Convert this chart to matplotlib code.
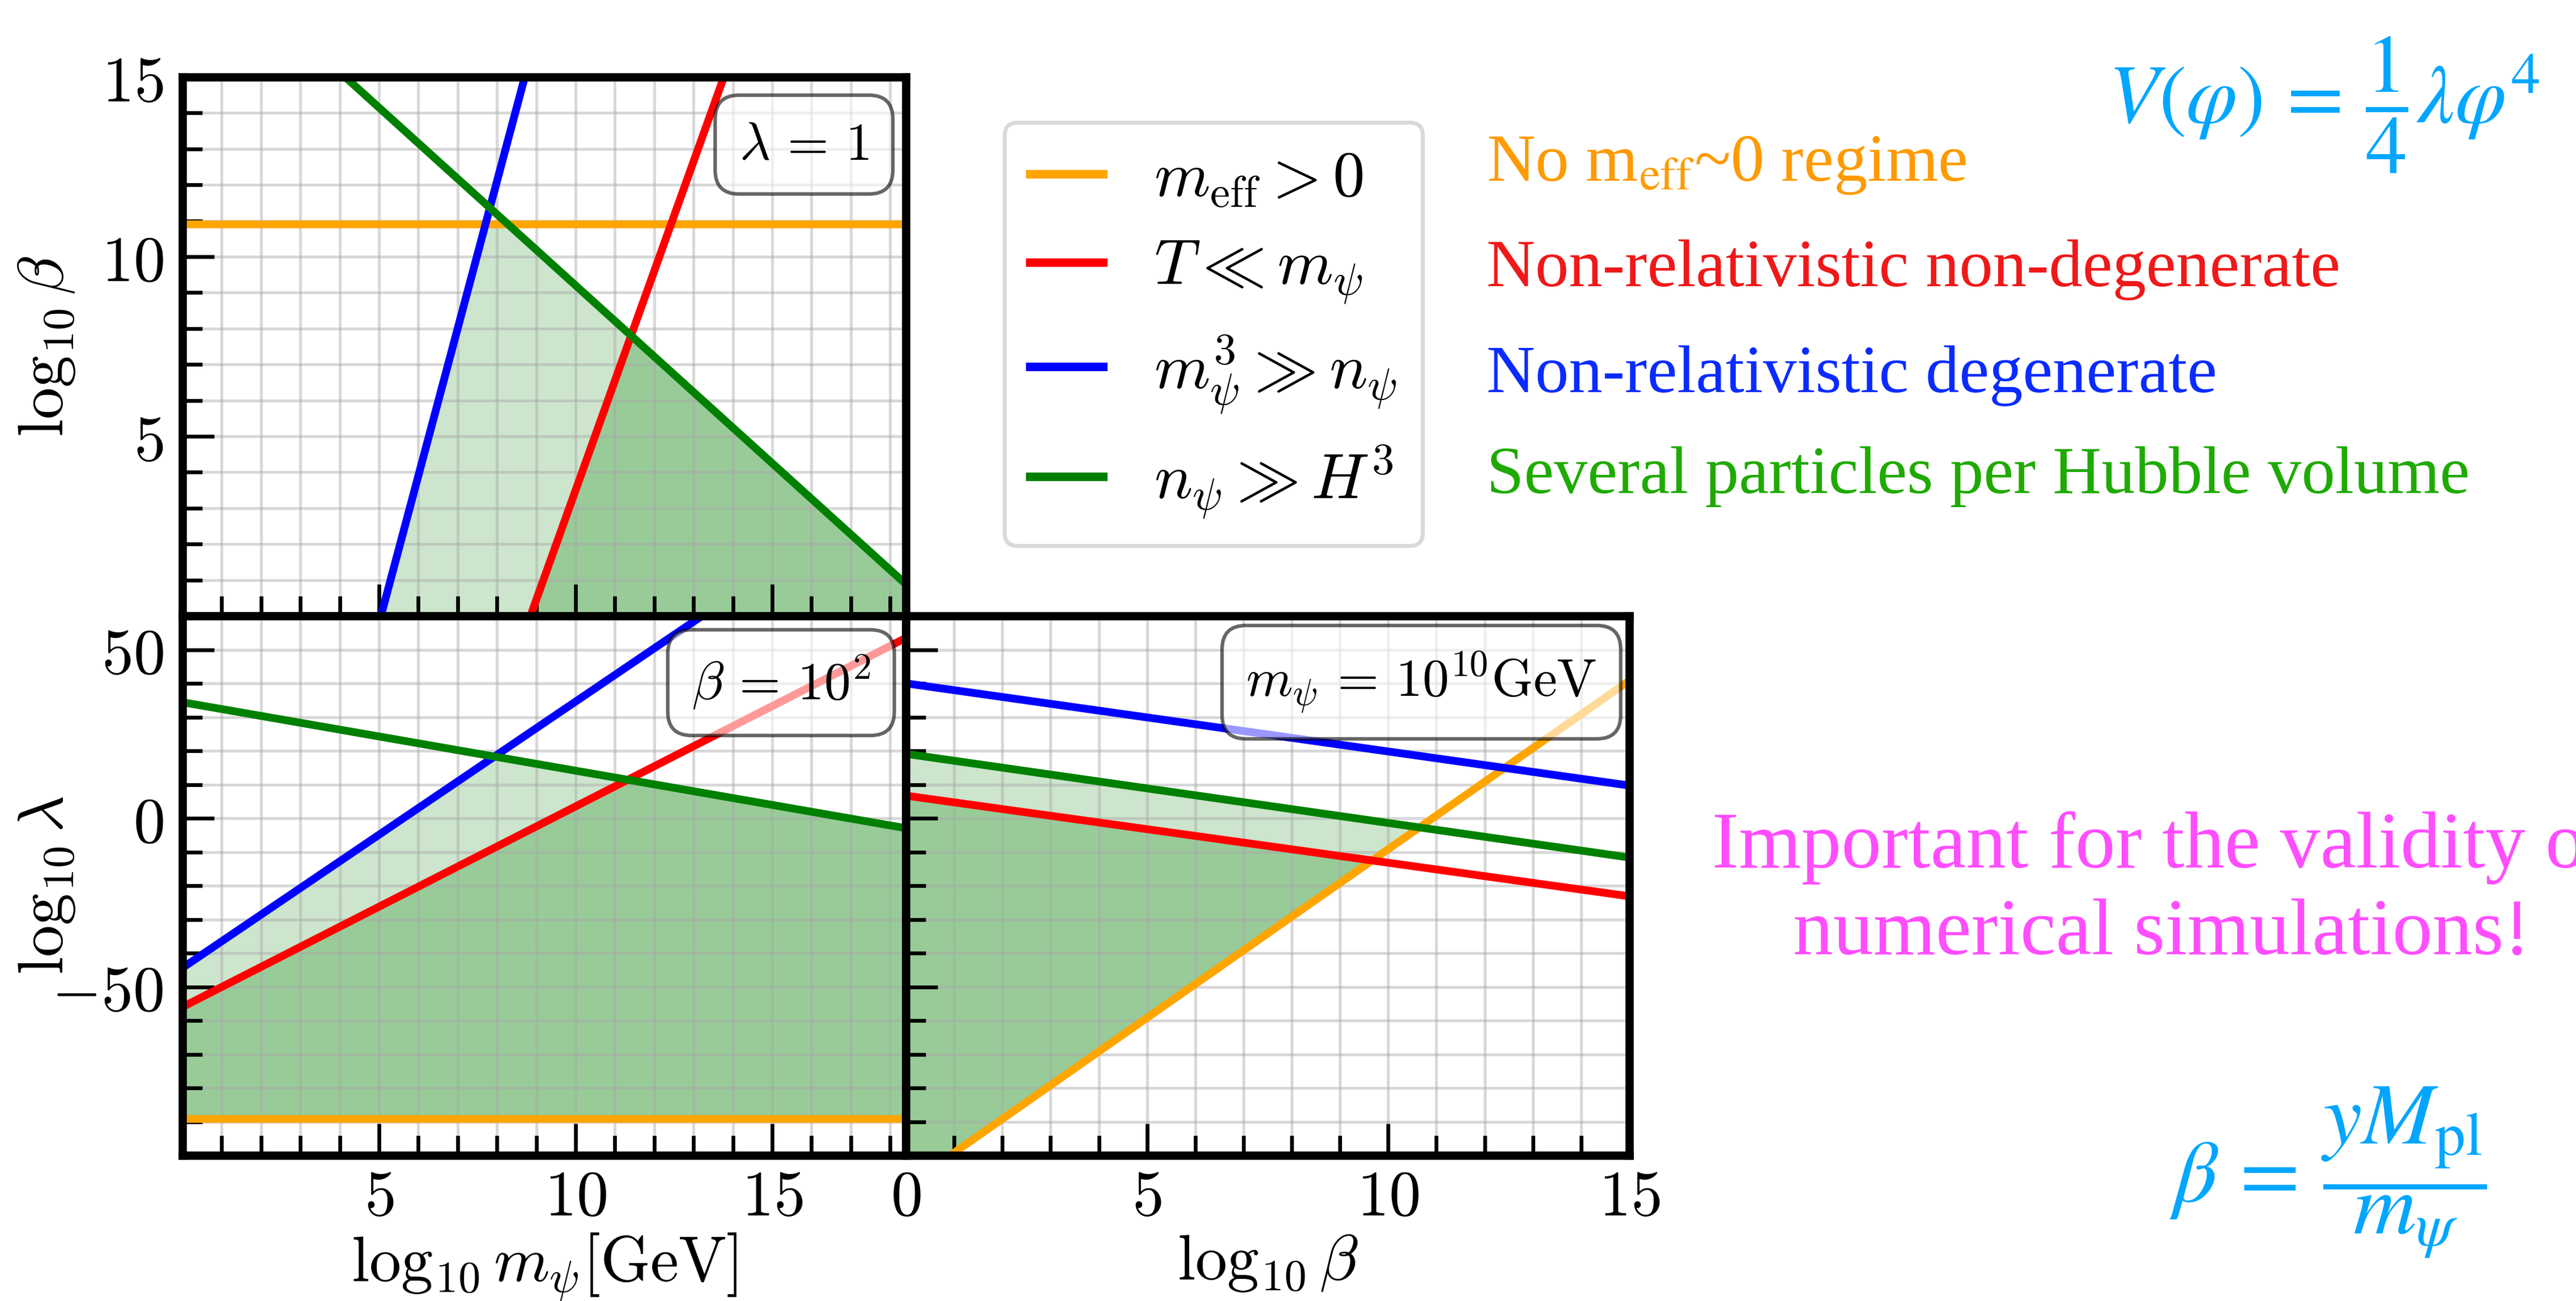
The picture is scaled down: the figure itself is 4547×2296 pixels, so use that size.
import numpy as np
import matplotlib
matplotlib.use("Agg")
import matplotlib.pyplot as plt
from matplotlib.lines import Line2D
from matplotlib.ticker import FixedLocator, MultipleLocator, FuncFormatter

plt.rcParams['mathtext.fontset'] = 'cm'
plt.rcParams['font.family'] = 'DejaVu Serif'

# ---- criteria lines: log10 of the constrained quantity = slope * x + intercept
conditions = ['orange', 'red', 'blue', 'green']
legend_labels = [r'$m_{\rm eff}>0$', r'$T\ll m_\psi$',
                 r'$m_\psi^3\gg n_\psi$', r'$n_\psi\gg H^3$']
descriptions = ['No m$_{\\mathrm{eff}}$~0 regime',
                'Non-relativistic non-degenerate',
                'Non-relativistic degenerate',
                'Several particles per Hubble volume']
desc_colors = ['#ff9a00', '#f01818', '#0a2bff', '#1faa00']

# lambda = 1 : log10 beta vs log10 m_psi
top_slopes = [0.0, 3.05, 4.1, -0.99]
top_intercepts = [10.9, -27.0, -20.7, 19.1]
# beta = 10^2 : log10 lambda vs log10 m_psi
bl_slopes = [0.0, 5.95, 7.9, -2.03]
bl_intercepts = [-89.2, -56.0, -44.4, 34.4]
# m_psi = 10^10 GeV : log10 lambda vs log10 beta
br_slopes = [10.0, -1.99, -2.02, -2.05]
br_intercepts = [-109.2, 6.7, 40.0, 19.1]

mass_range = (0, 18.4)
beta_range = (0, 15)
lam_range = (-100, 60)

FS = 27
W, H = 4547, 2296
fig = plt.figure(figsize=(W / 300, H / 300), dpi=300)

x0, x1, x2 = 322 / W, 1599 / W, 2876 / W
y_top, y_mid, y_bot = 1 - 136 / H, 1 - 1087 / H, 1 - 2039 / H
ax_top = fig.add_axes([x0, y_mid, x1 - x0, y_top - y_mid])
ax_bl = fig.add_axes([x0, y_bot, x1 - x0, y_mid - y_bot])
ax_br = fig.add_axes([x1, y_bot, x2 - x1, y_mid - y_bot])

fmt = FuncFormatter(lambda v, p: f'${v:g}$')


def style(ax):
    for s in ax.spines.values():
        s.set_linewidth(3.5)
    ax.tick_params(which='both', direction='in', top=False, right=False,
                   labelsize=FS, width=1.6)
    ax.tick_params(axis='y', pad=8)
    ax.tick_params(axis='x', pad=5)
    ax.tick_params(which='major', length=13.5)
    ax.tick_params(which='minor', length=8.5)
    ax.grid(which='both', color='darkgray', alpha=0.45, lw=1.2)
    ax.xaxis.set_major_formatter(fmt)
    ax.yaxis.set_major_formatter(fmt)


def draw_panel(ax, xr, yr, slopes, intercepts, orange_is_upper):
    x = np.linspace(xr[0], xr[1], 1200)
    lines = {c: s * x + b for c, s, b in zip(conditions, slopes, intercepts)}
    if orange_is_upper:
        lo = np.full_like(x, yr[0])
        up_light = np.minimum.reduce([lines['orange'], lines['blue'], lines['green']])
    else:
        lo = np.maximum(lines['orange'], yr[0])
        up_light = np.minimum(lines['blue'], lines['green'])
    up_dark = np.minimum(up_light, lines['red'])
    ax.fill_between(x, lo, up_light, where=up_light > lo, interpolate=True,
                    color='green', alpha=0.2, lw=0)
    ax.fill_between(x, lo, up_dark, where=up_dark > lo, interpolate=True,
                    color='green', alpha=0.25, lw=0)
    for c in conditions:
        ax.plot(x, lines[c], color=c, lw=3.3)
    ax.set_xlim(*xr)
    ax.set_ylim(*yr)
    style(ax)


draw_panel(ax_top, mass_range, beta_range, top_slopes, top_intercepts, True)
draw_panel(ax_bl, mass_range, lam_range, bl_slopes, bl_intercepts, False)
draw_panel(ax_br, beta_range, lam_range, br_slopes, br_intercepts, False)

# ticks
ax_top.xaxis.set_major_locator(FixedLocator([5, 10, 15]))
ax_top.xaxis.set_minor_locator(MultipleLocator(1))
ax_top.yaxis.set_major_locator(FixedLocator([5, 10, 15]))
ax_top.yaxis.set_minor_locator(MultipleLocator(1))
ax_top.tick_params(labelbottom=False)

ax_bl.xaxis.set_major_locator(FixedLocator([5, 10, 15]))
ax_bl.xaxis.set_minor_locator(MultipleLocator(1))
ax_bl.yaxis.set_major_locator(FixedLocator([-50, 0, 50]))
ax_bl.yaxis.set_minor_locator(MultipleLocator(10))

ax_br.xaxis.set_major_locator(FixedLocator([0, 5, 10, 15]))
ax_br.xaxis.set_minor_locator(MultipleLocator(1))
ax_br.yaxis.set_major_locator(FixedLocator([-50, 0, 50]))
ax_br.yaxis.set_minor_locator(MultipleLocator(10))
ax_br.tick_params(labelleft=False)

ax_top.set_ylabel(r'$\log_{10}\beta$', fontsize=FS)
ax_bl.set_ylabel(r'$\log_{10}\lambda$', fontsize=FS)
ax_bl.set_xlabel(r'$\log_{10}m_\psi[\mathrm{GeV}]$', fontsize=FS)
ax_br.set_xlabel(r'$\log_{10}\beta$', fontsize=FS)
ax_top.yaxis.set_label_coords(-0.146, 0.5)
ax_bl.yaxis.set_label_coords(-0.146, 0.5)
ax_bl.xaxis.set_label_coords(0.5, -0.142)
ax_br.xaxis.set_label_coords(0.5, -0.142)

BFS = 22.5
box = dict(boxstyle='round,pad=0.45', fc='white', ec='black', lw=1.5, alpha=0.6)
ax_top.text(0.949, 0.922, r'$\lambda\,=\,1$', transform=ax_top.transAxes,
            ha='right', va='top', fontsize=BFS, bbox=box, zorder=5)
ax_bl.text(0.951, 0.930, r'$\beta\,=\,10^2$', transform=ax_bl.transAxes,
           ha='right', va='top', fontsize=BFS, bbox=box, zorder=5)
ax_br.text(0.955, 0.938, r'$m_\psi\,=\,10^{10}\mathrm{GeV}$', transform=ax_br.transAxes,
           ha='right', va='top', fontsize=BFS, bbox=box, zorder=5)

# legend with the criteria
handles = [Line2D([], [], color=c, lw=3.6) for c in conditions]
leg = fig.legend(handles, legend_labels, loc='upper left',
                 bbox_to_anchor=(1773 / W, 1 - 216 / H), borderaxespad=0,
                 fontsize=FS, handlelength=1.15, labelspacing=0.42,
                 framealpha=1, edgecolor='0.85')
leg.get_frame().set_linewidth(1.7)

# regime descriptions next to the legend
desc_y = [319, 505, 692, 870]
for txt, col, yy in zip(descriptions, desc_colors, desc_y):
    fig.text(2624 / W, 1 - yy / H, txt, color=col, fontsize=28.5,
             family='Liberation Serif', math_fontfamily='stix',
             ha='left', va='baseline')

fig.text(3721 / W, 1 - 217 / H, r'$V(\varphi)\,=\,\dfrac{1}{4}\lambda\varphi^4$',
         color='#00a6ff', fontsize=35, math_fontfamily='stix',
         ha='left', va='baseline')
fig.text(3829 / W, 1 - 2120 / H, r'$\beta\,=\,\dfrac{yM_{\rm pl}}{m_\psi}$',
         color='#00a6ff', fontsize=37, math_fontfamily='stix',
         ha='left', va='baseline')

fig.text(3816 / W, 1 - 1684 / H,
         'Important for the validity of\nnumerical simulations!',
         color='#ff4dff', fontsize=34, family='Liberation Serif',
         ha='center', va='baseline', linespacing=1.25)

fig.savefig('out.png', dpi=300)
